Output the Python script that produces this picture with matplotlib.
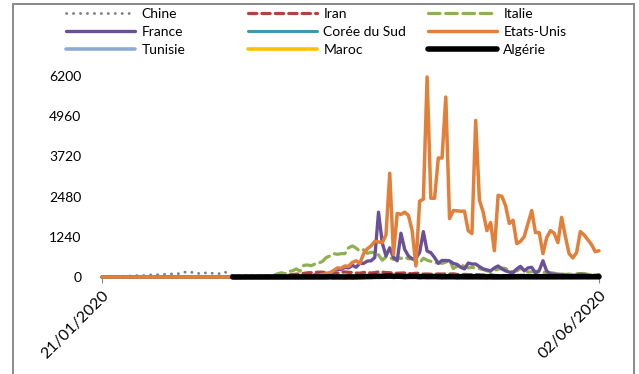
import numpy as np
import pandas as pd
import matplotlib
matplotlib.use("Agg")
import matplotlib.pyplot as plt
from matplotlib.patches import Rectangle

plt.rcParams["font.family"] = ["Lato", "DejaVu Sans"]

# daily deaths, 21/01/2020 -> 02/06/2020 (134 days)
dates = pd.date_range("2020-01-21", "2020-06-02", freq="D")

chine = [
    3, 8, 8, 16, 15, 24, 26, 26, 38, 43,
    46, 45, 57, 64, 65, 73, 73, 86, 89, 97,
    108, 97, 146, 160, 143, 142, 105, 98, 139, 112,
    118, 109, 97, 150, 71, 52, 29, 44, 47, 35,
    42, 31, 38, 31, 30, 28, 27, 22, 17, 22,
    11, 7, 13, 10, 14, 13, 11, 8, 3, 7,
    6, 9, 7, 4, 6, 5, 3, 5, 4, 4,
    1, 7, 6, 4, 3, 4, 1, 0, 2, 3,
    1, 3, 1, 0, 0, 0, 0, 0, 0, 0,
    0, 0, 0, 0, 0, 1, 0, 0, 0, 0,
    0, 0, 0, 0, 0, 0, 0, 0, 0, 0,
    0, 0, 0, 0, 0, 0, 0, 0, 0, 0,
    0, 0, 0, 0, 0, 0, 0, 0, 0, 0,
    0, 0, 0, 0,
]
iran = [
    0, 0, 0, 0, 0, 0, 0, 0, 0, 0,
    0, 0, 0, 0, 0, 0, 0, 0, 0, 0,
    0, 0, 0, 0, 0, 0, 0, 0, 0, 2,
    0, 2, 1, 3, 4, 4, 3, 3, 8, 8,
    11, 12, 11, 15, 15, 16, 21, 49, 43, 54,
    63, 75, 85, 97, 113, 129, 135, 147, 149, 149,
    123, 129, 127, 122, 143, 157, 144, 139, 123, 117,
    141, 138, 124, 134, 158, 151, 136, 133, 121, 117,
    122, 125, 111, 98, 117, 113, 89, 92, 87, 88,
    94, 91, 96, 93, 96, 80, 71, 80, 76, 71,
    80, 69, 63, 55, 68, 47, 45, 48, 45, 35,
    50, 51, 48, 51, 50, 35, 40, 51, 58, 62,
    34, 69, 56, 59, 50, 75, 51, 57, 63, 56,
    50, 55, 57, 64,
]
italie = [
    0, 0, 0, 0, 0, 0, 0, 0, 0, 0,
    0, 0, 0, 0, 0, 0, 0, 0, 0, 0,
    0, 0, 0, 0, 0, 0, 0, 0, 0, 0,
    0, 0, 1, 1, 4, 3, 2, 5, 4, 8,
    5, 10, 10, 20, 30, 40, 50, 100, 130, 100,
    170, 190, 250, 180, 360, 370, 350, 400, 430, 480,
    600, 650, 720, 700, 720, 720, 900, 960, 890, 800,
    840, 730, 760, 760, 680, 520, 620, 600, 540, 610,
    570, 620, 560, 570, 480, 430, 580, 520, 480, 430,
    450, 420, 460, 530, 260, 330, 380, 320, 280, 300,
    270, 260, 230, 190, 170, 200, 240, 280, 260, 170,
    170, 190, 260, 240, 150, 160, 180, 150, 130, 160,
    130, 120, 50, 90, 80, 90, 70, 110, 100, 110,
    80, 90, 60, 55,
]
france = [
    0, 0, 0, 0, 0, 0, 0, 0, 0, 0,
    0, 0, 0, 0, 0, 0, 0, 0, 0, 0,
    0, 0, 0, 0, 0, 0, 0, 0, 0, 0,
    0, 0, 0, 0, 0, 0, 0, 0, 0, 0,
    0, 1, 1, 0, 1, 2, 3, 4, 9, 11,
    15, 15, 18, 12, 36, 21, 27, 69, 80, 90,
    110, 120, 180, 240, 230, 300, 280, 360, 300, 420,
    420, 490, 500, 600, 2000, 1050, 650, 900, 600, 500,
    1350, 850, 650, 560, 570, 760, 1400, 800, 750, 600,
    420, 510, 510, 500, 420, 390, 300, 250, 430, 400,
    400, 320, 250, 220, 190, 280, 340, 250, 190, 150,
    130, 250, 330, 190, 280, 300, 120, 200, 500, 180,
    100, 80, 90, 70, 60, 50, 40, 60, 90, 70,
    50, 30, 20, 60,
]
coree = [
    0, 0, 0, 0, 0, 0, 0, 0, 0, 0,
    0, 0, 0, 0, 0, 0, 0, 0, 0, 0,
    0, 0, 0, 0, 0, 0, 0, 0, 0, 0,
    0, 1, 1, 2, 2, 2, 3, 1, 1, 4,
    1, 4, 6, 5, 6, 7, 6, 2, 3, 6,
    6, 5, 6, 2, 3, 6, 3, 3, 3, 9,
    1, 6, 1, 9, 5, 9, 3, 5, 8, 6,
    3, 4, 9, 3, 3, 5, 3, 6, 8, 4,
    3, 3, 3, 3, 3, 3, 2, 2, 2, 2,
    1, 1, 2, 0, 0, 2, 1, 4, 1, 2,
    1, 1, 1, 2, 2, 0, 2, 1, 1, 1,
    0, 2, 1, 1, 1, 1, 1, 0, 0, 2,
    1, 0, 1, 0, 0, 0, 0, 0, 1, 0,
    1, 0, 1, 0,
]
etats_unis = [
    0, 0, 0, 0, 0, 0, 0, 0, 0, 0,
    0, 0, 0, 0, 0, 0, 0, 0, 0, 0,
    0, 0, 0, 0, 0, 0, 0, 0, 0, 0,
    0, 0, 0, 0, 0, 0, 0, 0, 0, 0,
    1, 0, 4, 1, 1, 2, 3, 4, 1, 4,
    5, 7, 8, 11, 12, 20, 30, 40, 50, 80,
    100, 125, 200, 280, 270, 340, 330, 450, 500, 420,
    720, 870, 960, 1100, 1080, 1060, 1300, 3200, 700, 1960,
    1930, 2000, 1900, 1430, 340, 2340, 2400, 6170, 2430, 2430,
    3670, 3670, 5550, 1800, 2050, 2040, 2030, 2030, 1430, 1340,
    4830, 2370, 2000, 1430, 1680, 810, 2520, 2490, 2200, 1650,
    1750, 1030, 1100, 1250, 1650, 2050, 1370, 1370, 720, 1215,
    1430, 1350, 1060, 1840, 1250, 720, 590, 750, 1400, 1300,
    1150, 1000, 780, 810,
]
tunisie = [
    None, None, None, None, None, None, None, None, None, None,
    None, None, None, None, None, None, None, None, None, None,
    None, None, None, None, None, None, None, None, None, None,
    None, None, None, None, None, None, None, None, None, None,
    None, 0, 0, 0, 0, 0, 0, 0, 0, 0,
    0, 0, 0, 0, 0, 0, 0, 0, 1, 0,
    0, 1, 1, 0, 0, 1, 2, 2, 0, 1,
    4, 4, 0, 4, 1, 0, 3, 1, 0, 3,
    1, 1, 0, 0, 2, 1, 1, 0, 1, 0,
    2, 0, 0, 2, 1, 1, 0, 0, 0, 0,
    0, 1, 0, 0, 0, 0, 1, 0, 0, 0,
    0, 0, 0, 0, 0, 0, 0, 0, 0, 0,
    0, 0, 0, 0, 0, 0, 0, 0, 0, 0,
    0, 0, 0, 0,
]
maroc = [
    None, None, None, None, None, None, None, None, None, None,
    None, None, None, None, None, None, None, None, None, None,
    None, None, None, None, None, None, None, None, None, None,
    None, None, None, None, None, None, None, None, None, None,
    None, 0, 0, 0, 0, 0, 0, 0, 0, 0,
    1, 0, 0, 1, 0, 0, 0, 0, 1, 0,
    1, 1, 1, 4, 3, 3, 5, 3, 3, 3,
    7, 3, 4, 8, 7, 2, 3, 10, 6, 7,
    3, 5, 8, 6, 9, 2, 5, 2, 3, 4,
    4, 6, 3, 2, 2, 2, 3, 2, 2, 1,
    1, 1, 1, 2, 2, 2, 2, 2, 2, 2,
    2, 1, 2, 1, 1, 1, 1, 1, 1, 1,
    0, 0, 0, 0, 1, 1, 0, 0, 0, 1,
    0, 0, 0, 0,
]
algerie = [
    None, None, None, None, None, None, None, None, None, None,
    None, None, None, None, None, None, None, None, None, None,
    None, None, None, None, None, None, None, None, None, None,
    None, None, None, None, None, 0, 0, 0, 0, 0,
    0, 0, 0, 0, 0, 0, 0, 0, 0, 0,
    0, 0, 1, 0, 1, 2, 0, 0, 1, 2,
    3, 7, 2, 4, 2, 2, 5, 2, 4, 8,
    9, 14, 14, 19, 20, 21, 26, 30, 20, 25,
    21, 12, 19, 18, 20, 10, 16, 12, 13, 14,
    11, 8, 9, 7, 10, 5, 8, 6, 6, 8,
    7, 5, 3, 4, 7, 3, 3, 5, 5, 3,
    6, 6, 8, 6, 7, 8, 6, 5, 6, 7,
    5, 6, 6, 4, 6, 9, 8, 6, 7, 8,
    7, 8, 6, 8,
]

y_ticks = [0, 1240, 2480, 3720, 4960, 6200]
x_labels = ["21/01/2020", "02/06/2020"]

series = [
    ("Chine", chine, dict(color="#7f7f7f", lw=2.0, ls=(0, (0.1, 2.4)), dash_capstyle="round")),
    ("Iran", iran, dict(color="#b5403d", lw=2.3, ls=(0, (2.6, 1.6)), dash_capstyle="round")),
    ("Italie", italie, dict(color="#8fb052", lw=2.3, ls=(0, (3.6, 1.8)), dash_capstyle="round")),
    ("France", france, dict(color="#6a5196", lw=2.4, ls="-")),
    ("Corée du Sud", coree, dict(color="#3f97b0", lw=2.2, ls="-")),
    ("Etats-Unis", etats_unis, dict(color="#e2803a", lw=2.5, ls="-")),
    ("Tunisie", tunisie, dict(color="#8eaad5", lw=2.6, ls="-")),
    ("Maroc", maroc, dict(color="#ffc000", lw=2.6, ls="-")),
    ("Algérie", algerie, dict(color="#000000", lw=4.0, ls="-")),
]

fig = plt.figure(figsize=(6.39, 3.74), dpi=100)
ax = fig.add_axes([102 / 639, 1 - 277 / 374, 497 / 639, 201 / 374])

handles = {}
for i, (name, vals, style) in enumerate(series):
    y = np.array(vals, dtype=float)
    line, = ax.plot(dates, y, label=name, clip_on=False, zorder=3 + i,
                    solid_capstyle="round", **style)
    handles[name] = line

ax.set_xlim(dates[0], dates[-1])
ax.set_ylim(0, 6200)
ax.set_yticks(y_ticks)
ax.set_yticklabels([str(v) for v in y_ticks])
ax.set_xticks([dates[0], dates[-1]])
ax.set_xticklabels(x_labels, rotation=45, ha="right", rotation_mode="anchor")

for s in ["top", "right", "left"]:
    ax.spines[s].set_visible(False)
ax.spines["bottom"].set_color("#868686")
ax.spines["bottom"].set_linewidth(0.8)
ax.tick_params(axis="y", length=0, pad=15, labelsize=10)
ax.tick_params(axis="x", length=4, width=0.8, color="#868686", pad=4, labelsize=11.5)

# legend, three columns laid out row-wise like the original
columns = [["Chine", "France", "Tunisie"],
           ["Iran", "Corée du Sud", "Maroc"],
           ["Italie", "Etats-Unis", "Algérie"]]
col_x = [66, 248, 428]
for names, cx in zip(columns, col_x):
    leg = fig.legend([handles[n] for n in names], names, loc="upper left",
                     bbox_to_anchor=(cx / 639, 1 - 8 / 374), frameon=False,
                     borderpad=0, borderaxespad=0, handlelength=5.0,
                     handletextpad=0.43, labelspacing=0.42, fontsize=10)

# chart border
fig.add_artist(Rectangle((13 / 639, -0.1), 621 / 639, 1.1 - 4 / 374,
                         transform=fig.transFigure, fill=False,
                         edgecolor="#8a8a8a", lw=1.4))

fig.savefig("out.png", dpi=100)
